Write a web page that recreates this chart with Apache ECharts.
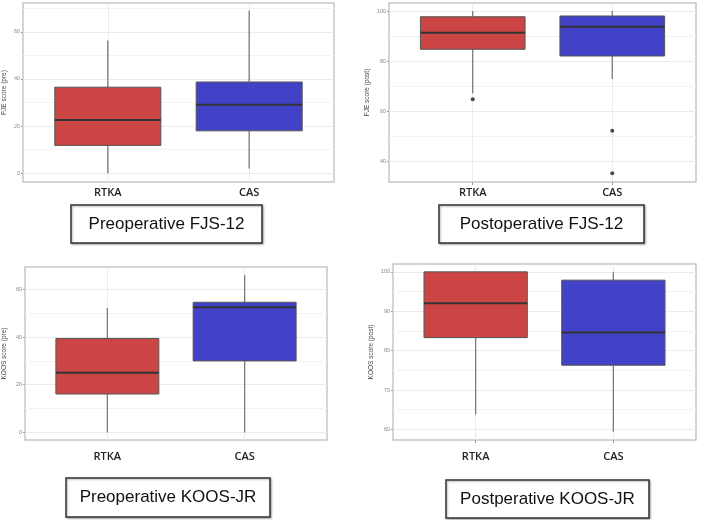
<!DOCTYPE html>
<html>
<head>
<meta charset="utf-8">
<script src="https://cdn.jsdelivr.net/npm/echarts@6/dist/echarts.min.js"></script>
<style>
html, body { margin: 0; padding: 0; background: #ffffff; }
#main { width: 702px; height: 520px; }
</style>
</head>
<body>
<div id="main"></div>
<script>
// categories
var groups = ['RTKA', 'CAS'];
var boxColors = ['#cc4545', '#4242c9'];

// box stats per group: [min, Q1, median, Q3, max]
var fjsPre = [[0, 11.8, 22.6, 36.5, 56.3], [2, 18, 29.1, 38.7, 69]];
var fjsPost = [[67.1, 84.7, 91.3, 97.7, 100], [72.8, 82, 93.7, 98, 100]];
var koosPre = [[0, 16.1, 25, 39.4, 52.2], [0, 30, 52.5, 54.6, 66]];
var koosPost = [[63.8, 83.3, 92, 100, 100], [59.4, 76.3, 84.6, 97.9, 100]];

// outliers: [group index (1-based), value]
var fjsPostOut = [[1, 64.7], [2, 52.1], [2, 35.1]];

// tick labels
var ticksPre = [0, 20, 40, 60];
var ticksFjsPost = [40, 60, 80, 100];
var ticksKoosPost = [60, 70, 80, 90, 100];
var minorPre = [10, 30, 50, 70];
var minorKoosPre = [10, 30, 50];
var minorFjsPost = [50, 70, 90];
var minorKoosPost = [65, 75, 85, 95];

var yNames = ['FJE score (pre)', 'FJE score (post)', 'KOOS score (pre)', 'KOOS score (post)'];
var captions = ['Preoperative FJS-12', 'Postoperative FJS-12', 'Preoperative KOOS-JR', 'Postperative KOOS-JR'];

var panels = [
    {stats: fjsPre, out: [], ticks: ticksPre, minor: minorPre, min: -3.7, max: 72.2,
     grid: {left: 22, top: 3, width: 312, height: 179}, nameGap: 15, labelMargin: 5,
     box: [71, 205, 191, 38]},
    {stats: fjsPost, out: fjsPostOut, ticks: ticksFjsPost, minor: minorFjsPost, min: 31.6, max: 103.2,
     grid: {left: 389, top: 3, width: 307, height: 179}, nameGap: 18, labelMargin: 5,
     box: [439, 205, 205, 38]},
    {stats: koosPre, out: [], ticks: ticksPre, minor: minorKoosPre, min: -3.2, max: 69.4,
     grid: {left: 25, top: 267, width: 302, height: 173}, nameGap: 17, labelMargin: 11,
     box: [66, 478, 204, 39]},
    {stats: koosPost, out: [], ticks: ticksKoosPost, minor: minorKoosPost, min: 57.3, max: 102,
     grid: {left: 393, top: 264, width: 303, height: 176}, nameGap: 18, labelMargin: 11,
     box: [446, 480, 203, 38]}
];

function renderBox(params, api) {
    var x = api.value(0);
    var pLo = api.coord([x, api.value(1)]);
    var pQ1 = api.coord([x, api.value(2)]);
    var pMed = api.coord([x, api.value(3)]);
    var pQ3 = api.coord([x, api.value(4)]);
    var pHi = api.coord([x, api.value(5)]);
    var w = api.size([0.75, 0])[0];
    var whisker = {stroke: '#7a7a7a', lineWidth: 1.3};
    return {
        type: 'group',
        children: [
            {type: 'line', shape: {x1: pLo[0], y1: pLo[1], x2: pQ1[0], y2: pQ1[1]}, style: whisker},
            {type: 'line', shape: {x1: pQ3[0], y1: pQ3[1], x2: pHi[0], y2: pHi[1]}, style: whisker},
            {type: 'rect', shape: {x: pQ3[0] - w / 2, y: pQ3[1], width: w, height: pQ1[1] - pQ3[1]},
             style: {fill: api.visual('color'), stroke: '#555555', lineWidth: 1}},
            {type: 'line', shape: {x1: pMed[0] - w / 2, y1: pMed[1], x2: pMed[0] + w / 2, y2: pMed[1]},
             style: {stroke: '#333333', lineWidth: 2}}
        ]
    };
}

var option = {
    backgroundColor: '#ffffff',
    animation: false,
    grid: [],
    xAxis: [],
    yAxis: [],
    series: [],
    graphic: []
};

panels.forEach(function (p, i) {
    option.grid.push({
        left: p.grid.left, top: p.grid.top, width: p.grid.width, height: p.grid.height,
        show: true, borderColor: '#c6c6c6', borderWidth: 1.5, backgroundColor: '#ffffff'
    });
    option.xAxis.push({
        type: 'value', gridIndex: i, min: 0.4, max: 2.6,
        axisLine: {show: false},
        splitLine: {show: false},
        axisTick: {show: true, customValues: [1, 2], length: 3, lineStyle: {color: '#9a9a9a'}},
        axisLabel: {
            customValues: [1, 2],
            formatter: function (v) { return groups[Math.round(v) - 1]; },
            fontFamily: 'Open Sans', fontSize: 11, fontWeight: 600, color: '#222222',
            margin: p.labelMargin
        }
    });
    option.yAxis.push({
        type: 'value', gridIndex: i, min: p.min, max: p.max, splitNumber: 4,
        name: yNames[i], nameLocation: 'middle', nameGap: p.nameGap,
        nameTextStyle: {fontSize: 6.5, color: '#444444', fontFamily: 'Liberation Sans'},
        axisLine: {show: false},
        axisTick: {show: true, customValues: p.ticks, length: 2, lineStyle: {color: '#9a9a9a'}},
        axisLabel: {customValues: p.ticks, fontSize: 5.5, color: '#8a8a8a', margin: 3, fontFamily: 'Liberation Sans'},
        splitLine: {show: true, lineStyle: {color: '#ebebeb', width: 1}}
    });

    var minorLines = p.minor.map(function (v) {
        return {yAxis: v, lineStyle: {color: '#f3f3f3', width: 1}};
    });
    var catLines = [{xAxis: 1}, {xAxis: 2}];

    option.series.push({
        type: 'scatter', xAxisIndex: i, yAxisIndex: i, z: 3,
        data: p.out, symbolSize: 4, itemStyle: {color: '#1e1e1e'},
        markLine: {
            silent: true, symbol: 'none', z: 1, animation: false,
            label: {show: false},
            lineStyle: {color: '#ebebeb', width: 1, type: 'solid'},
            data: minorLines.concat(catLines)
        }
    });
    option.series.push({
        type: 'custom', xAxisIndex: i, yAxisIndex: i, z: 2,
        renderItem: renderBox,
        encode: {x: 0, y: [1, 2, 3, 4, 5]},
        data: p.stats.map(function (s, k) {
            return {value: [k + 1].concat(s), itemStyle: {color: boxColors[k]}};
        })
    });

    option.graphic.push({
        type: 'rect',
        shape: {x: p.box[0], y: p.box[1], width: p.box[2], height: p.box[3]},
        style: {fill: '#ffffff', stroke: '#333333', lineWidth: 1.5,
                shadowBlur: 2, shadowColor: 'rgba(0,0,0,0.3)', shadowOffsetX: 1, shadowOffsetY: 1}
    });
    option.graphic.push({
        type: 'text',
        x: p.box[0] + p.box[2] / 2, y: p.box[1] + p.box[3] / 2,
        style: {text: captions[i], fontSize: 17, fontFamily: 'Liberation Sans', fill: '#111111',
                align: 'center', verticalAlign: 'middle'}
    });
});

var chart = echarts.init(document.getElementById('main'));
chart.setOption(option);
</script>
</body>
</html>
